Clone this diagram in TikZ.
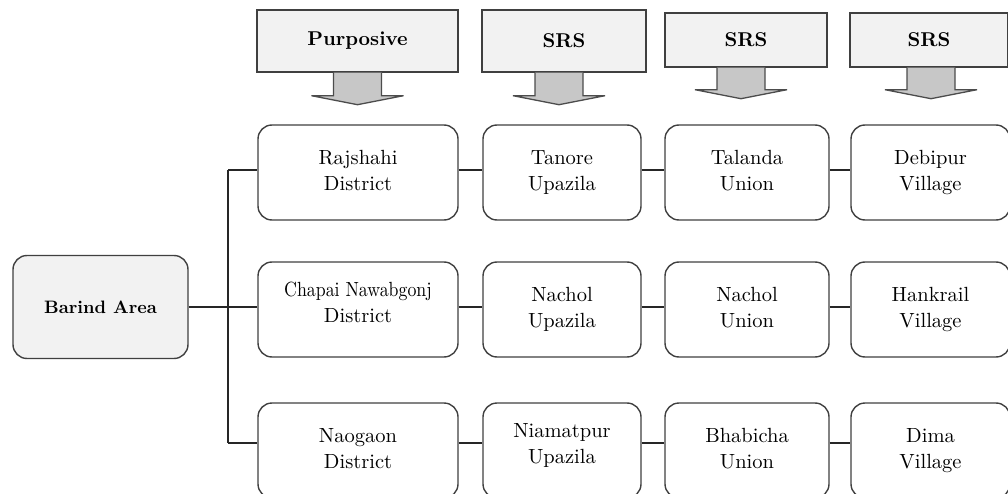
\documentclass[tikz,border=0pt]{standalone}
\usepackage{graphicx}
\definecolor{boxline}{gray}{0.25}
\definecolor{topfill}{gray}{0.95}
\definecolor{arrowfill}{gray}{0.78}
\definecolor{arrowline}{gray}{0.3}
\newcommand\twol[3][0pt]{\raisebox{#1}[\height][\depth]{\scalebox{2.05}{\begin{tabular}{@{}c@{}}#2\\#3\end{tabular}}}}
\newcommand\bl[2][2]{\scalebox{#1}{\bfseries #2}}
\tikzset{
  rbox/.style={draw=boxline, line width=1.4pt, rounded corners=14pt, fill=white,
    minimum height=95pt, align=center, inner sep=0pt,
    font=\fontsize{10}{12.7}\selectfont},
  tbox/.style={draw=boxline, line width=1.4pt, fill=topfill, inner sep=0pt,
    font=\fontsize{10}{12}\selectfont},
  arr/.style={draw=arrowline, fill=arrowfill, line width=1.3pt, line join=miter},
  conn/.style={draw=black!85, line width=1.5pt}
}
\begin{document}
\begin{tikzpicture}[x=1pt,y=-1pt]
\useasboundingbox (0,0) rectangle (1008,494);
\clip (0,0) rectangle (1008,494);

% top method boxes
\node[tbox, minimum width=201pt, minimum height=62pt] (t1) at (357.5,41) {\bl{Purposive}};
\node[tbox, minimum width=164pt, minimum height=62pt] (t2) at (564,41) {\bl{SRS}};
\node[tbox, minimum width=162pt, minimum height=54pt] (t3) at (746,40) {\bl{SRS}};
\node[tbox, minimum width=158pt, minimum height=54pt] (t4) at (929,40) {\bl{SRS}};

% block arrows
\filldraw[arr] ([xshift=-24pt]t1.south) -- ++(0,23) -- ++(-22,0) -- ++(46,9) -- ++(46,-9) -- ++(-22,0) -- ([xshift=24pt]t1.south);
\filldraw[arr] ([xshift=-29pt]t2.south) -- ++(0,23) -- ++(-22,0) -- ++(46,9) -- ++(46,-9) -- ++(-22,0) -- ([xshift=19pt]t2.south);
\filldraw[arr] ([xshift=-29pt]t3.south) -- ++(0,22) -- ++(-22,0) -- ++(46,9) -- ++(46,-9) -- ++(-22,0) -- ([xshift=19pt]t3.south);
\filldraw[arr] ([xshift=-22pt]t4.south) -- ++(0,22) -- ++(-22,0) -- ++(46,9) -- ++(46,-9) -- ++(-22,0) -- ([xshift=26pt]t4.south);

% root
\node[rbox, minimum width=175pt, minimum height=103pt, fill=topfill] (barind) at (100.5,307) {\bl[1.8]{Barind Area}};

% row 1
\node[rbox, minimum width=200pt] (d1) at (358,172.5) {\twol{Rajshahi}{District}};
\node[rbox, minimum width=158pt] (u1) at (562,172.5) {\twol{Tanore}{Upazila}};
\node[rbox, minimum width=164pt] (n1) at (747,172.5) {\twol{Talanda}{Union}};
\node[rbox, minimum width=159pt] (v1) at (930.5,172.5) {\twol{Debipur}{Village}};
% row 2
\node[rbox, minimum width=200pt] (d2) at (358,309.5) {\twol[5pt]{\scalebox{0.87}[1]{Chapai Nawabgonj}}{District}};
\node[rbox, minimum width=158pt] (u2) at (562,309.5) {\twol{Nachol}{Upazila}};
\node[rbox, minimum width=164pt] (n2) at (747,309.5) {\twol{Nachol}{Union}};
\node[rbox, minimum width=159pt] (v2) at (930.5,309.5) {\twol{Hankrail}{Village}};
% row 3
\node[rbox, minimum width=200pt] (d3) at (358,450.5) {\twol{Naogaon}{District}};
\node[rbox, minimum width=158pt] (u3) at (562,450.5) {\twol[5pt]{Niamatpur}{Upazila}};
\node[rbox, minimum width=164pt] (n3) at (747,450.5) {\twol{Bhabicha}{Union}};
\node[rbox, minimum width=159pt] (v3) at (930.5,450.5) {\twol{Dima}{Village}};

% tree connectors
\coordinate (jt) at (228,170);
\coordinate (jb) at (228,443);
\draw[conn] (barind.east) -- (barind.east -| d2.west);
\draw[conn] (jt) -- (jb);
\draw[conn] (jt) -- (jt -| d1.west);
\draw[conn] (jb) -- (jb -| d3.west);

% row connectors
\draw[conn] ([yshift=2.5pt]d1.east) -- ([yshift=2.5pt]u1.west);
\draw[conn] ([yshift=2.5pt]u1.east) -- ([yshift=2.5pt]n1.west);
\draw[conn] ([yshift=2.5pt]n1.east) -- ([yshift=2.5pt]v1.west);
\draw[conn] ([yshift=2.5pt]d2.east) -- ([yshift=2.5pt]u2.west);
\draw[conn] ([yshift=2.5pt]u2.east) -- ([yshift=2.5pt]n2.west);
\draw[conn] ([yshift=2.5pt]n2.east) -- ([yshift=2.5pt]v2.west);
\draw[conn] ([yshift=7.5pt]d3.east) -- ([yshift=7.5pt]u3.west);
\draw[conn] ([yshift=7.5pt]u3.east) -- ([yshift=7.5pt]n3.west);
\draw[conn] ([yshift=7.5pt]n3.east) -- ([yshift=7.5pt]v3.west);
\end{tikzpicture}
\end{document}
